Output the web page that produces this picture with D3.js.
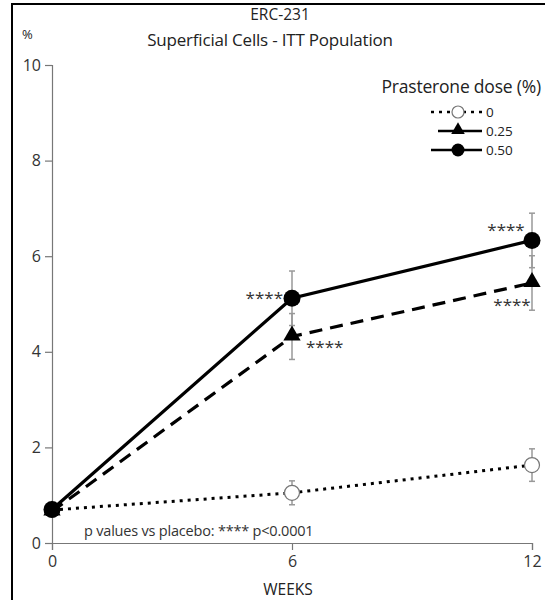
<!DOCTYPE html>
<html><head><meta charset="utf-8">
<script src="https://cdn.jsdelivr.net/npm/d3@7"></script>
<style>body{margin:0;background:#fff;} text{font-family:"Open Sans",sans-serif;}</style>
</head><body>
<svg id="c" width="545" height="600"></svg>
<script>
const weeks = [0, 6, 12];
const xTicks = [0, 6, 12];
const yTicks = [0, 2, 4, 6, 8, 10];
const dose0 = [0.69, 1.05, 1.63];
const err0 = [0, 0.25, 0.34];
const dose025 = [0.66, 4.32, 5.44];
const err025 = [0, 0.48, 0.57];
const dose050 = [0.70, 5.12, 6.33];
const err050 = [0, 0.57, 0.57];
const seriesNames = ["0", "0.25", "0.50"];
const stars = [
  {week: 6, value: 5.12, label: "****", pos: "left"},
  {week: 6, value: 4.32, label: "****", pos: "right"},
  {week: 12, value: 6.33, label: "****", pos: "above"},
  {week: 12, value: 5.44, label: "****", pos: "below"}
];

const svg = d3.select("#c");
const x = d3.scaleLinear().domain([0, 12]).range([52, 532]);
const y = d3.scaleLinear().domain([0, 10]).range([543, 65]);

// frame
svg.append("line").attr("x1", 12).attr("x2", 12).attr("y1", 3).attr("y2", 600).attr("stroke", "#000").attr("stroke-width", 2);
svg.append("line").attr("x1", 11).attr("x2", 545).attr("y1", 4).attr("y2", 4).attr("stroke", "#000").attr("stroke-width", 2);

// titles
svg.append("text").attr("x", 280).attr("y", 20).attr("text-anchor", "middle").attr("font-size", 15.5).attr("fill", "#222").text("ERC-231");
svg.append("text").attr("x", 270).attr("y", 46).attr("text-anchor", "middle").attr("font-size", 17).attr("letter-spacing", -0.2).attr("fill", "#222").text("Superficial Cells - ITT Population");
svg.append("text").attr("x", 22).attr("y", 39).attr("font-size", 13).attr("fill", "#222").text("%");

// axes
const yAxis = svg.append("g").attr("transform", `translate(${x(0)},0)`)
  .call(d3.axisLeft(y).tickValues(yTicks).tickSize(7).tickPadding(4));
const xAxis = svg.append("g").attr("transform", `translate(0,${y(0)})`)
  .call(d3.axisBottom(x).tickValues(xTicks).tickSize(7).tickPadding(6));
[yAxis, xAxis].forEach(a => {
  a.select(".domain").attr("stroke", "#777").attr("stroke-width", 1.2);
  a.selectAll(".tick line").attr("stroke", "#777").attr("stroke-width", 1.2);
  a.selectAll("text").attr("font-family", "Open Sans, sans-serif").attr("font-size", 16).attr("fill", "#333");
});
svg.append("text").attr("x", 288).attr("y", 595).attr("text-anchor", "middle").attr("font-size", 15.5).attr("fill", "#222").text("WEEKS");

const mk = (vals, errs) => weeks.map((w, i) => ({w, v: vals[i], e: errs[i]}));
const s0 = mk(dose0, err0), s25 = mk(dose025, err025), s50 = mk(dose050, err050);

// error bars
function errBars(data) {
  data.filter(d => d.e > 0).forEach(d => {
    const g = svg.append("g").attr("stroke", "#999").attr("stroke-width", 1.5);
    g.append("line").attr("x1", x(d.w)).attr("x2", x(d.w)).attr("y1", y(d.v - d.e)).attr("y2", y(d.v + d.e));
    [d.v - d.e, d.v + d.e].forEach(v => g.append("line").attr("x1", x(d.w) - 3).attr("x2", x(d.w) + 3).attr("y1", y(v)).attr("y2", y(v)));
  });
}
errBars(s0); errBars(s25); errBars(s50);

const line = d3.line().x(d => x(d.w)).y(d => y(d.v));
svg.append("path").datum(s0).attr("d", line).attr("fill", "none").attr("stroke", "#000").attr("stroke-width", 3).attr("stroke-dasharray", "3,5");
svg.append("path").datum(s25).attr("d", line).attr("fill", "none").attr("stroke", "#000").attr("stroke-width", 3.2).attr("stroke-dasharray", "13,8");
svg.append("path").datum(s50).attr("d", line).attr("fill", "none").attr("stroke", "#000").attr("stroke-width", 3.2);

// markers
svg.selectAll(".m0").data(s0).enter().append("circle").attr("cx", d => x(d.w)).attr("cy", d => y(d.v)).attr("r", 7.5).attr("fill", "#fff").attr("stroke", "#777").attr("stroke-width", 1.2);
const tri = d3.symbol().type(d3.symbolTriangle).size(130);
svg.selectAll(".m25").data(s25).enter().append("path").attr("d", tri).attr("transform", d => `translate(${x(d.w)},${y(d.v) - 1})`).attr("fill", "#000");
svg.selectAll(".m50").data(s50).enter().append("circle").attr("cx", d => x(d.w)).attr("cy", d => y(d.v)).attr("r", 8.5).attr("fill", "#000");

// stars
stars.forEach(s => {
  let tx = x(s.week), ty = y(s.value), anchor = "middle";
  if (s.pos === "left") { tx -= 9; ty += 6; anchor = "end"; }
  if (s.pos === "right") { tx += 14; ty += 16; anchor = "start"; }
  if (s.pos === "above") { tx -= 26; ty -= 4; }
  if (s.pos === "below") { tx -= 20; ty += 28; }
  svg.append("text").attr("x", tx).attr("y", ty).attr("text-anchor", anchor).attr("font-size", 17).attr("fill", "#333").text(s.label);
});

svg.append("text").attr("x", 84).attr("y", 536).attr("font-size", 14.5).attr("letter-spacing", -0.2).attr("fill", "#333").text("p values vs placebo: **** p<0.0001");

// legend
svg.append("text").attr("x", 541).attr("y", 93).attr("text-anchor", "end").attr("font-size", 17.5).attr("letter-spacing", -0.2).attr("fill", "#222").text("Prasterone dose (%)");
const legRows = [
  {name: seriesNames[0], dash: "3,5", mark: "open", y: 112},
  {name: seriesNames[1], dash: null, mark: "tri", y: 131},
  {name: seriesNames[2], dash: null, mark: "dot", y: 150}
];
legRows.forEach((r, i) => {
  const x1 = i === 1 ? 438 : 431, x2 = 482, cx = 458;
  const l = svg.append("line").attr("x1", x1).attr("x2", x2).attr("y1", r.y).attr("y2", r.y).attr("stroke", "#000").attr("stroke-width", 2.5);
  if (r.dash) l.attr("stroke-dasharray", r.dash);
  if (r.mark === "open") svg.append("circle").attr("cx", cx).attr("cy", r.y).attr("r", 6).attr("fill", "#fff").attr("stroke", "#777").attr("stroke-width", 1.2);
  if (r.mark === "tri") svg.append("path").attr("d", d3.symbol().type(d3.symbolTriangle).size(80)).attr("transform", `translate(${cx},${r.y - 1})`).attr("fill", "#000");
  if (r.mark === "dot") svg.append("circle").attr("cx", cx).attr("cy", r.y).attr("r", 6.5).attr("fill", "#000");
  svg.append("text").attr("x", 486).attr("y", r.y + 5).attr("font-size", 13.5).attr("fill", "#222").text(r.name);
});
</script>
</body></html>
